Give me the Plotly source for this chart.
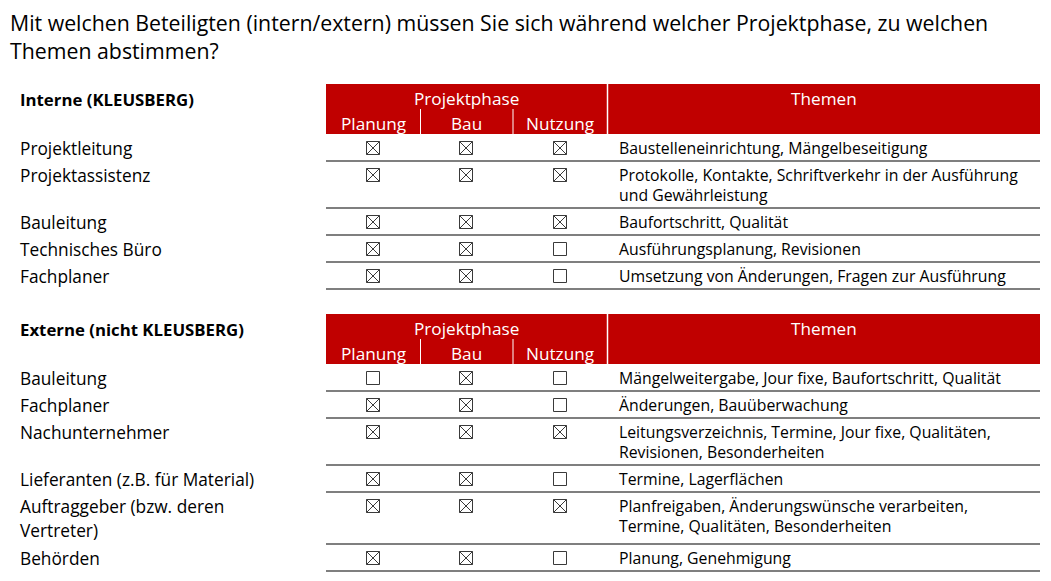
import plotly.graph_objects as go

# ── Data ───────────────────────────────────────────────────────────────────────
TITLE_LINES = [
    "Mit welchen Beteiligten (intern/extern) müssen Sie sich während welcher Projektphase, zu welchen",
    "Themen abstimmen?",
]
PHASES = ["Planung", "Bau", "Nutzung"]

int_title = "Interne (KLEUSBERG)"
int_names = [["Projektleitung"], ["Projektassistenz"], ["Bauleitung"],
             ["Technisches Büro"], ["Fachplaner"]]
int_planung = [1, 1, 1, 1, 1]
int_bau = [1, 1, 1, 1, 1]
int_nutzung = [1, 1, 1, 0, 0]
int_themen = [
    ["Baustelleneinrichtung, Mängelbeseitigung"],
    ["Protokolle, Kontakte, Schriftverkehr in der Ausführung", "und Gewährleistung"],
    ["Baufortschritt, Qualität"],
    ["Ausführungsplanung, Revisionen"],
    ["Umsetzung von Änderungen, Fragen zur Ausführung"],
]

ext_title = "Externe (nicht KLEUSBERG)"
ext_names = [["Bauleitung"], ["Fachplaner"], ["Nachunternehmer"],
             ["Lieferanten (z.B. für Material)"],
             ["Auftraggeber (bzw. deren", "Vertreter)"], ["Behörden"]]
ext_planung = [0, 1, 1, 1, 1, 1]
ext_bau = [1, 1, 1, 1, 1, 1]
ext_nutzung = [0, 0, 1, 0, 1, 0]
ext_themen = [
    ["Mängelweitergabe, Jour fixe, Baufortschritt, Qualität"],
    ["Änderungen, Bauüberwachung"],
    ["Leitungsverzeichnis, Termine, Jour fixe, Qualitäten,", "Revisionen, Besonderheiten"],
    ["Termine, Lagerflächen"],
    ["Planfreigaben, Änderungswünsche verarbeiten,", "Termine, Qualitäten, Besonderheiten"],
    ["Planung, Genehmigung"],
]

# ── Layout constants (pixels of the reference picture) ─────────────────────────
W, H = 1051, 581
PAGE_MARGIN = 8          # browser body margin around the plot div
RED = "#C00000"
FONT = "Open Sans, Lato, sans-serif"
X_TITLE, X_LABEL, X_THEME = 9, 19, 618
X_TABLE0, X_TABLE1 = 326, 1040
X_SPLIT = 607.5
X_SUB = [420.5, 513]
X_BOX = [373, 466, 560]
HEAD_H = 50
TEXT_DY = 14

fig = go.Figure()
shapes, annots = [], []


def add_text(x, y, text, size=16, color="#000000", anchor="left", bold=False):
    annots.append(dict(
        x=x, y=y, xref="x", yref="y", text=f"<b>{text}</b>" if bold else text,
        showarrow=False, xanchor=anchor, yanchor="middle", borderpad=0,
        font=dict(family=FONT, size=size, color=color),
    ))


def draw_table(top, title, names, planung, bau, nutzung, themen):
    add_text(X_LABEL, top + 15, title, size=16.8, bold=True)
    shapes.append(dict(type="rect", x0=X_TABLE0, x1=X_TABLE1, y0=top, y1=top + HEAD_H,
                       fillcolor=RED, line_width=0, layer="below"))
    shapes.append(dict(type="line", x0=X_SPLIT, x1=X_SPLIT, y0=top, y1=top + HEAD_H,
                       line=dict(color="white", width=1.5)))
    for xs in X_SUB:
        shapes.append(dict(type="line", x0=xs, x1=xs, y0=top + 25, y1=top + HEAD_H,
                           line=dict(color="white", width=1)))
    add_text((X_TABLE0 + X_SPLIT) / 2, top + 14, "Projektphase", size=17.2, color="white", anchor="center")
    add_text((X_SPLIT + X_TABLE1) / 2, top + 14, "Themen", size=17.2, color="white", anchor="center")
    for xb, ph in zip(X_BOX, PHASES):
        add_text(xb, top + 39, ph, size=17.2, color="white", anchor="center")

    y = top + HEAD_H
    bx, by, sym = [], [], []
    for name, p, b, n, th in zip(names, planung, bau, nutzung, themen):
        h = max(27 + 20 * (len(th) - 1), 27 + 25 * (len(name) - 1))
        for i, line in enumerate(name):
            add_text(X_LABEL, y + TEXT_DY + i * 24, line, size=17.3)
        for i, line in enumerate(th):
            add_text(X_THEME, y + TEXT_DY + i * 20, line, size=15.8)
        for xb, v in zip(X_BOX, (p, b, n)):
            bx.append(xb)
            by.append(y + TEXT_DY)
            sym.append("square-x-open" if v else "square-open")
        y += h
        shapes.append(dict(type="line", x0=X_TABLE0, x1=X_TABLE1, y0=y, y1=y,
                           line=dict(color="#000000", width=1.2)))
    fig.add_trace(go.Scatter(
        x=bx, y=by, mode="markers", hoverinfo="skip", showlegend=False,
        marker=dict(symbol=sym, size=13, color="#3a3a3a", line=dict(color="#3a3a3a", width=1)),
    ))
    return y


# title lines: first one kept low enough that its text box stays inside the plot div
for i, line in enumerate(TITLE_LINES):
    add_text(X_TITLE, 22 + i * 28, line, size=21.3)

end = draw_table(84, int_title, int_names, int_planung, int_bau, int_nutzung, int_themen)
draw_table(end + 25, ext_title, ext_names, ext_planung, ext_bau, ext_nutzung, ext_themen)

# the plot div sits inside the page margin, so shrink it and shift the ranges
fig.update_layout(
    width=W - 2 * PAGE_MARGIN, height=H - 2 * PAGE_MARGIN,
    margin=dict(l=0, r=0, t=0, b=0),
    paper_bgcolor="white", plot_bgcolor="white",
    shapes=shapes, annotations=annots,
    xaxis=dict(range=[PAGE_MARGIN, W - PAGE_MARGIN], visible=False, fixedrange=True),
    yaxis=dict(range=[H - PAGE_MARGIN, PAGE_MARGIN], visible=False, fixedrange=True),
)

fig.write_html("out.html", config={"displayModeBar": False})
